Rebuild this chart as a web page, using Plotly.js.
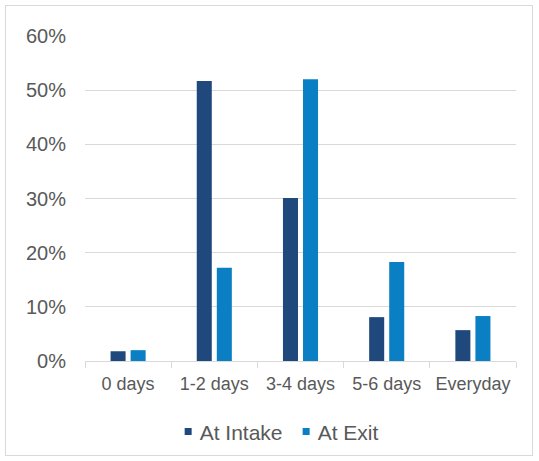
<!DOCTYPE html>
<html>
<head>
<meta charset="utf-8">
<script src="https://cdn.plot.ly/plotly-3.0.1.min.js"></script>
<style>
  html, body { margin: 0; padding: 0; background: #fff; }
  #frame { position: absolute; left: 5px; top: 5px; width: 528px; height: 451px; border: 1px solid #d9d9d9; box-sizing: border-box; }
  #chart { position: absolute; left: 0; top: 0; width: 539px; height: 461px; }
</style>
</head>
<body>
<div id="frame"></div>
<div id="chart"></div>
<script>
// Days per week, share of respondents at intake vs. exit
const categories = ['0 days', '1-2 days', '3-4 days', '5-6 days', 'Everyday'];
const atIntake = [0.018, 0.517, 0.301, 0.081, 0.057];
const atExit = [0.020, 0.172, 0.520, 0.183, 0.083];
const seriesNames = ['At Intake', 'At Exit'];
const yTicks = [0, 0.1, 0.2, 0.3, 0.4, 0.5, 0.6];
const yTickLabels = ['0%', '10%', '20%', '30%', '40%', '50%', '60%'];

const font = { family: 'Liberation Sans, Arial, sans-serif', color: '#595959' };

const traces = [
  { type: 'bar', name: seriesNames[0], x: categories, y: atIntake, marker: { color: '#1F497D' }, hoverinfo: 'skip' },
  { type: 'bar', name: seriesNames[1], x: categories, y: atExit, marker: { color: '#0B7FC4' }, hoverinfo: 'skip' }
];

const layout = {
  width: 539, height: 461,
  margin: { l: 85, r: 23, t: 36, b: 100, autoexpand: false },
  paper_bgcolor: 'rgba(0,0,0,0)',
  plot_bgcolor: 'rgba(0,0,0,0)',
  font: Object.assign({ size: 18 }, font),
  barmode: 'group',
  bargap: 0.535,
  bargroupgap: 0.25,
  showlegend: true,
  legend: {
    orientation: 'h', x: 0.447, xanchor: 'center', y: -0.218, yanchor: 'middle',
    font: Object.assign({ size: 21 }, font), itemwidth: 30, tracegroupgap: 0,
    entrywidth: 73, entrywidthmode: 'pixels'
  },
  xaxis: {
    type: 'category', showgrid: false, zeroline: false,
    showline: true, linecolor: '#d9d9d9', linewidth: 1,
    ticks: 'outside', tickson: 'boundaries', ticklen: 6, tickcolor: '#d9d9d9',
    tickfont: Object.assign({ size: 18 }, font), ticklabelstandoff: 6
  },
  yaxis: {
    range: [0, 0.6], tickvals: yTicks, ticktext: yTickLabels,
    showgrid: true, gridcolor: '#d9d9d9', gridwidth: 1,
    zeroline: false, showline: false, ticks: '',
    tickfont: Object.assign({ size: 20 }, font), ticklabelstandoff: 18
  }
};

Plotly.newPlot('chart', traces, layout, { staticPlot: true, displayModeBar: false }).then(function (gd) {
  // small square legend keys placed close to their labels
  gd.querySelectorAll('.legend .legendpoints path').forEach(function (p) {
    p.setAttribute('d', 'M12,3.5H5V-3.5H12Z');
  });
});
</script>
</body>
</html>
